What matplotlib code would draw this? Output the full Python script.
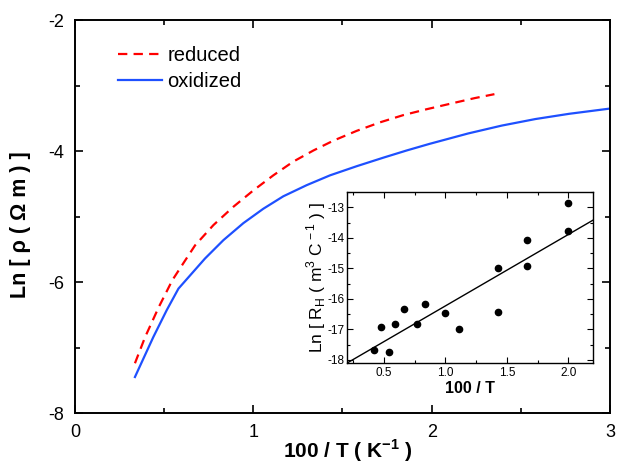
import matplotlib
matplotlib.use("Agg")
import matplotlib.pyplot as plt
from matplotlib.ticker import MultipleLocator

plt.rcParams["font.family"] = ["Liberation Sans", "DejaVu Sans"]
plt.rcParams["mathtext.fontset"] = "custom"
plt.rcParams["mathtext.rm"] = "Liberation Sans"
plt.rcParams["mathtext.bf"] = "Liberation Sans:bold"
plt.rcParams["axes.unicode_minus"] = False

# main curves: Ln(rho) vs 100/T
red_x = [0.336, 0.393, 0.47, 0.546, 0.608, 0.673, 0.776, 0.888, 1.0, 1.112,
         1.224, 1.337, 1.449, 1.58, 1.711, 1.841, 1.972, 2.13, 2.242, 2.352]
red_y = [-7.24, -6.84, -6.38, -5.97, -5.71, -5.44, -5.13, -4.85, -4.60, -4.37,
         -4.16, -3.99, -3.84, -3.69, -3.56, -3.45, -3.36, -3.26, -3.19, -3.13]

blue_x = [0.336, 0.439, 0.514, 0.580, 0.729, 0.832, 0.944, 1.056, 1.168, 1.299,
          1.43, 1.58, 1.729, 1.86, 1.987, 2.205, 2.393, 2.582, 2.771, 3.0]
blue_y = [-7.45, -6.84, -6.43, -6.10, -5.64, -5.36, -5.10, -4.88, -4.69, -4.52,
          -4.37, -4.23, -4.10, -3.99, -3.89, -3.73, -3.61, -3.51, -3.43, -3.35]

# inset: Ln(R_H) vs 100/T
hall_x = [0.417, 0.476, 0.545, 0.588, 0.667, 0.769, 0.833, 1.0, 1.111,
          1.429, 1.429, 1.667, 1.667, 2.0, 2.0]
hall_y = [-17.66, -16.93, -17.74, -16.81, -16.32, -16.81, -16.18, -16.46, -16.97,
          -14.99, -16.42, -14.06, -14.91, -12.86, -13.79]
fit_slope = 2.34
fit_intercept = -18.57

fig = plt.figure(figsize=(6.17, 4.66), dpi=100)
ax = fig.add_axes([0.1216, 0.1137, 0.867, 0.843])

ax.plot(red_x, red_y, color="#ff0000", lw=1.6, dashes=(4.2, 2.8), label="reduced")
ax.plot(blue_x, blue_y, color="#1e50ff", lw=1.6, label="oxidized")

ax.set_xlim(0, 3)
ax.set_ylim(-8, -2)
ax.xaxis.set_major_locator(MultipleLocator(1))
ax.xaxis.set_minor_locator(MultipleLocator(0.5))
ax.yaxis.set_major_locator(MultipleLocator(2))
ax.yaxis.set_minor_locator(MultipleLocator(1))
ax.tick_params(which="both", direction="in", top=True, right=True, width=1.2)
ax.tick_params(which="major", length=6, labelsize=13, pad=8)
ax.tick_params(which="minor", length=3.5)
for s in ax.spines.values():
    s.set_linewidth(1.4)

ax.set_xlabel(r"100 / T ( K$^{\mathbf{ - 1}}$ )", fontsize=15, fontweight="bold")
ax.set_ylabel("Ln [ ρ ( Ω m ) ]", fontsize=15.5, fontweight="bold")
ax.xaxis.set_label_coords(0.51, -0.062)
ax.yaxis.set_label_coords(-0.082, 0.48)

ax.legend(loc="upper left", bbox_to_anchor=(0.08, 0.935), frameon=False,
          fontsize=14.5, handlelength=2.2, handletextpad=0.25,
          borderpad=0, borderaxespad=0, labelspacing=0.35)

# inset
ins = fig.add_axes([0.5624, 0.221, 0.3987, 0.367])
ins.plot(hall_x, hall_y, "o", color="black", ms=4.5)
ins.axline((0, fit_intercept), slope=fit_slope, color="black", lw=1)
ins.set_xlim(0.2, 2.2)
ins.set_ylim(-18.1, -12.5)
ins.xaxis.set_major_locator(MultipleLocator(0.5))
ins.xaxis.set_minor_locator(MultipleLocator(0.25))
ins.yaxis.set_major_locator(MultipleLocator(1))
ins.yaxis.set_minor_locator(MultipleLocator(0.5))
ins.tick_params(which="both", direction="in", top=True, right=True, width=0.8)
ins.tick_params(which="major", length=4, labelsize=8.5, pad=3)
ins.tick_params(axis="y", which="major", pad=2)
ins.tick_params(which="minor", length=2)
for s in ins.spines.values():
    s.set_linewidth(1.0)
ins.set_xlabel("100 / T", fontsize=11.5, fontweight="bold", labelpad=1)
ins.set_ylabel(r"Ln [ R$_{\rm H}$ ( m$^{\rm 3}$ C$^{\rm - 1}$ ) ]", fontsize=12.5)
ins.yaxis.set_label_coords(-0.078, 0.5)

fig.savefig("out.png", dpi=100)
